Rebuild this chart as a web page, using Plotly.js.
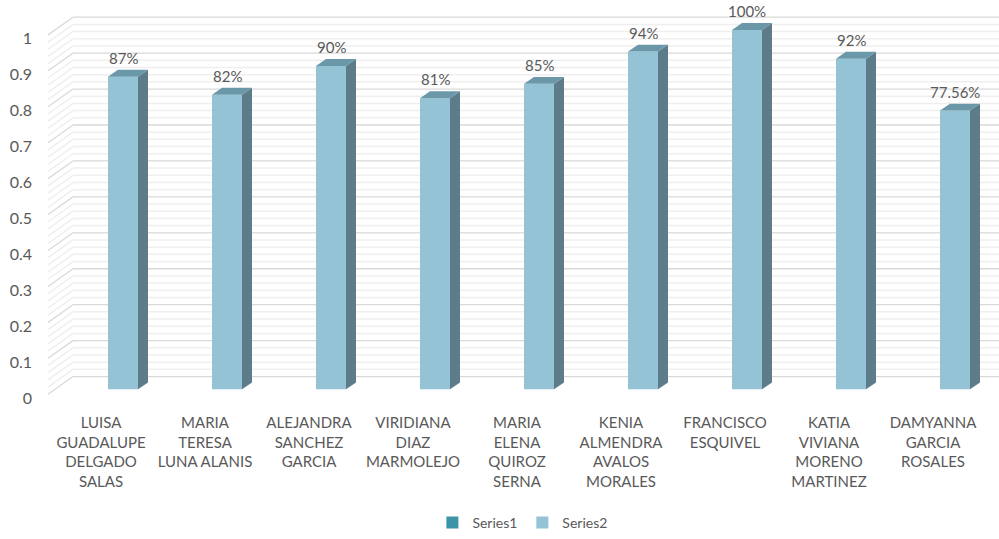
<!DOCTYPE html>
<html>
<head>
<meta charset="utf-8">
<script src="https://cdn.plot.ly/plotly-3.0.1.min.js"></script>
<style>html,body{margin:0;padding:0;background:#fff;}#chart{width:999px;height:539px;}</style>
</head>
<body>
<div id="chart"></div>
<script>
// ---- data ----
const categories = [
  "LUISA<br>GUADALUPE<br>DELGADO<br>SALAS",
  "MARIA<br>TERESA<br>LUNA ALANIS",
  "ALEJANDRA<br>SANCHEZ<br>GARCIA",
  "VIRIDIANA<br>DIAZ<br>MARMOLEJO",
  "MARIA<br>ELENA<br>QUIROZ<br>SERNA",
  "KENIA<br>ALMENDRA<br>AVALOS<br>MORALES",
  "FRANCISCO<br>ESQUIVEL",
  "KATIA<br>VIVIANA<br>MORENO<br>MARTINEZ",
  "DAMYANNA<br>GARCIA<br>ROSALES"
];
const series1 = [null, null, null, null, null, null, null, null, null];
const series2 = [0.87, 0.82, 0.90, 0.81, 0.85, 0.94, 1.00, 0.92, 0.7756];
const labels2 = ["87%", "82%", "90%", "81%", "85%", "94%", "100%", "92%", "77.56%"];
const yTickVals = [0, 0.1, 0.2, 0.3, 0.4, 0.5, 0.6, 0.7, 0.8, 0.9, 1];
const yTickText = ["0", "0.1", "0.2", "0.3", "0.4", "0.5", "0.6", "0.7", "0.8", "0.9", "1"];

// ---- geometry (pixels -> data units) ----
const PXX = 104, PXY = 365.5;
const xr = [-0.7981, 8.4231];
const yr = [-0.0520, 1.0834];
const idx = categories.map((c, i) => i);
const barW = 30 / PXX;
const dX = 10 / PXX, dY = 7 / PXY;           // bar depth
const wallBackX = xr[0] + 33 / PXX, wallBackDY = 13 / PXY;
const wallFrontX = xr[0] + 8 / PXX, wallFrontDY = -5 / PXY;

const textColor = "#595959";
const font = "Lato, 'Open Sans', sans-serif";

// side and top faces built from the data values
const sideX = [], sideY = [], topX = [], topY = [];
series2.forEach((v, i) => {
  const x0 = idx[i] - barW / 2, x1 = idx[i] + barW / 2;
  sideX.push(x1, x1, x1 + dX, x1 + dX, x1, null);
  sideY.push(0, v, v + dY, dY, 0, null);
  topX.push(x0, x1, x1 + dX, x0 + dX, x0, null);
  topY.push(v, v, v + dY, v + dY, v, null);
});

const traces = [
  {type: "bar", name: "Series1", x: idx, y: series1, marker: {color: "#3c94a7"}, hoverinfo: "skip"},
  {type: "bar", name: "Series2", x: idx, y: series2, width: barW,
   marker: {color: "#93c3d5", line: {width: 0}}, hoverinfo: "skip"},
  {type: "scatter", mode: "lines", x: sideX, y: sideY, fill: "toself", fillcolor: "#5b7c88",
   line: {width: 0, color: "#5b7c88"}, showlegend: false, hoverinfo: "skip"},
  {type: "scatter", mode: "lines", x: topX, y: topY, fill: "toself", fillcolor: "#6b98a8",
   line: {width: 0, color: "#6b98a8"}, showlegend: false, hoverinfo: "skip"},
  {type: "scatter", x: [], y: [], xaxis: "x2", yaxis: "y2", showlegend: false, hoverinfo: "skip"}
];

// wall gridlines
const shapes = [];
for (let k = 0; k <= 50; k++) {
  const v = k / 50;
  const major = (k % 5 === 0);
  const col = major ? "#d9d9d9" : "#efefef";
  const w = major ? 1.3 : 1.5;
  shapes.push({type: "line", xref: "x", yref: "y", layer: "below",
    x0: wallBackX, x1: xr[1], y0: v + wallBackDY, y1: v + wallBackDY, line: {color: col, width: w}});
  shapes.push({type: "line", xref: "x", yref: "y", layer: "below",
    x0: wallFrontX, x1: wallBackX, y0: v + wallFrontDY, y1: v + wallBackDY, line: {color: col, width: w}});
}

const annotations = series2.map((v, i) => ({
  x: idx[i], y: v + dY, xref: "x", yref: "y", text: labels2[i], showarrow: false,
  yanchor: "bottom", yshift: 1, font: {family: font, size: 15, color: textColor}
}));

const layout = {
  width: 999, height: 539,
  margin: {l: 40, r: 0, t: 0, b: 124},
  paper_bgcolor: "#ffffff", plot_bgcolor: "rgba(0,0,0,0)",
  showlegend: true,
  legend: {orientation: "h", x: 0.503, xanchor: "center", y: -0.2819, yanchor: "middle",
    font: {family: font, size: 14, color: textColor}},
  barmode: "overlay",
  xaxis: {range: xr, showgrid: false, zeroline: false, showline: false, showticklabels: false, fixedrange: true},
  yaxis: {range: yr, showgrid: false, zeroline: false, showline: false, showticklabels: false, fixedrange: true},
  xaxis2: {overlaying: "x", anchor: "y2", side: "bottom", range: [xr[0] + 22 / PXX, xr[1] + 22 / PXX],
    tickmode: "array", tickvals: idx, ticktext: categories, showgrid: false, zeroline: false, showline: false,
    ticks: "", ticklabelstandoff: 4, tickfont: {family: font, size: 15, color: textColor}, fixedrange: true},
  yaxis2: {overlaying: "y", side: "left", anchor: "x2", range: [-0.0274, 1.1081],
    tickmode: "array", tickvals: yTickVals, ticktext: yTickText, showgrid: false, zeroline: false,
    showline: false, ticks: "", ticklabelstandoff: 7, tickfont: {family: font, size: 16, color: textColor}, fixedrange: true},
  shapes: shapes,
  annotations: annotations
};

Plotly.newPlot("chart", traces, layout, {displayModeBar: false, staticPlot: true});
</script>
</body>
</html>
